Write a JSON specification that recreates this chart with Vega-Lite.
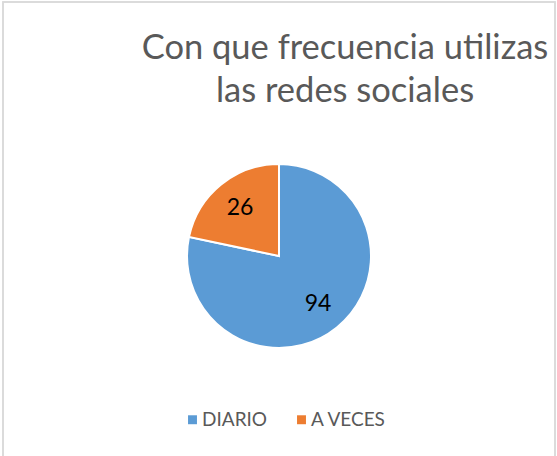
{
  "$schema": "https://vega.github.io/schema/vega-lite/v6.json",
  "autosize": {"type": "none"},
  "width": 552,
  "height": 508,
  "padding": {"left": 3, "top": 2, "right": 2, "bottom": 0},
  "background": "white",
  "title": {
    "text": ["Con que frecuencia utilizas", "las redes sociales"],
    "orient": "top",
    "anchor": "middle",
    "offset": 0,
    "dy": 108,
    "dx": 66,
    "font": "Lato",
    "fontSize": 34.5,
    "fontWeight": "normal",
    "color": "#595959",
    "lineHeight": 43
  },
  "data": {
    "values": [
      {"categoria": "DIARIO", "valor": 94, "orden": 1},
      {"categoria": "A VECES", "valor": 26, "orden": 2}
    ]
  },
  "layer": [
    {
      "mark": {"type": "rect", "fill": "transparent", "stroke": "#d9d9d9", "strokeWidth": 1.5},
      "encoding": {}
    },
    {
      "mark": {"type": "arc", "outerRadius": 92, "stroke": "white", "strokeWidth": 2},
      "encoding": {
        "theta": {"field": "valor", "type": "quantitative", "stack": true},
        "order": {"field": "orden", "type": "quantitative"},
        "color": {
          "field": "categoria",
          "type": "nominal",
          "scale": {"domain": ["DIARIO", "A VECES"], "range": ["#5B9BD5", "#ED7D31"]},
          "legend": {
            "title": null,
            "orient": "none",
            "direction": "horizontal",
            "legendX": 180,
            "legendY": 408,
            "symbolType": "square",
            "symbolSize": 80,
            "symbolStrokeWidth": 0,
            "labelFont": "Lato",
            "labelFontSize": 19,
            "labelColor": "#595959",
            "columnPadding": 24,
            "labelOffset": 0
          }
        }
      }
    },
    {
      "mark": {"type": "text", "radius": 62, "font": "Lato", "fontSize": 23, "color": "black"},
      "encoding": {
        "theta": {"field": "valor", "type": "quantitative", "stack": true},
        "order": {"field": "orden", "type": "quantitative"},
        "text": {"field": "valor", "type": "quantitative"}
      }
    }
  ]
}
